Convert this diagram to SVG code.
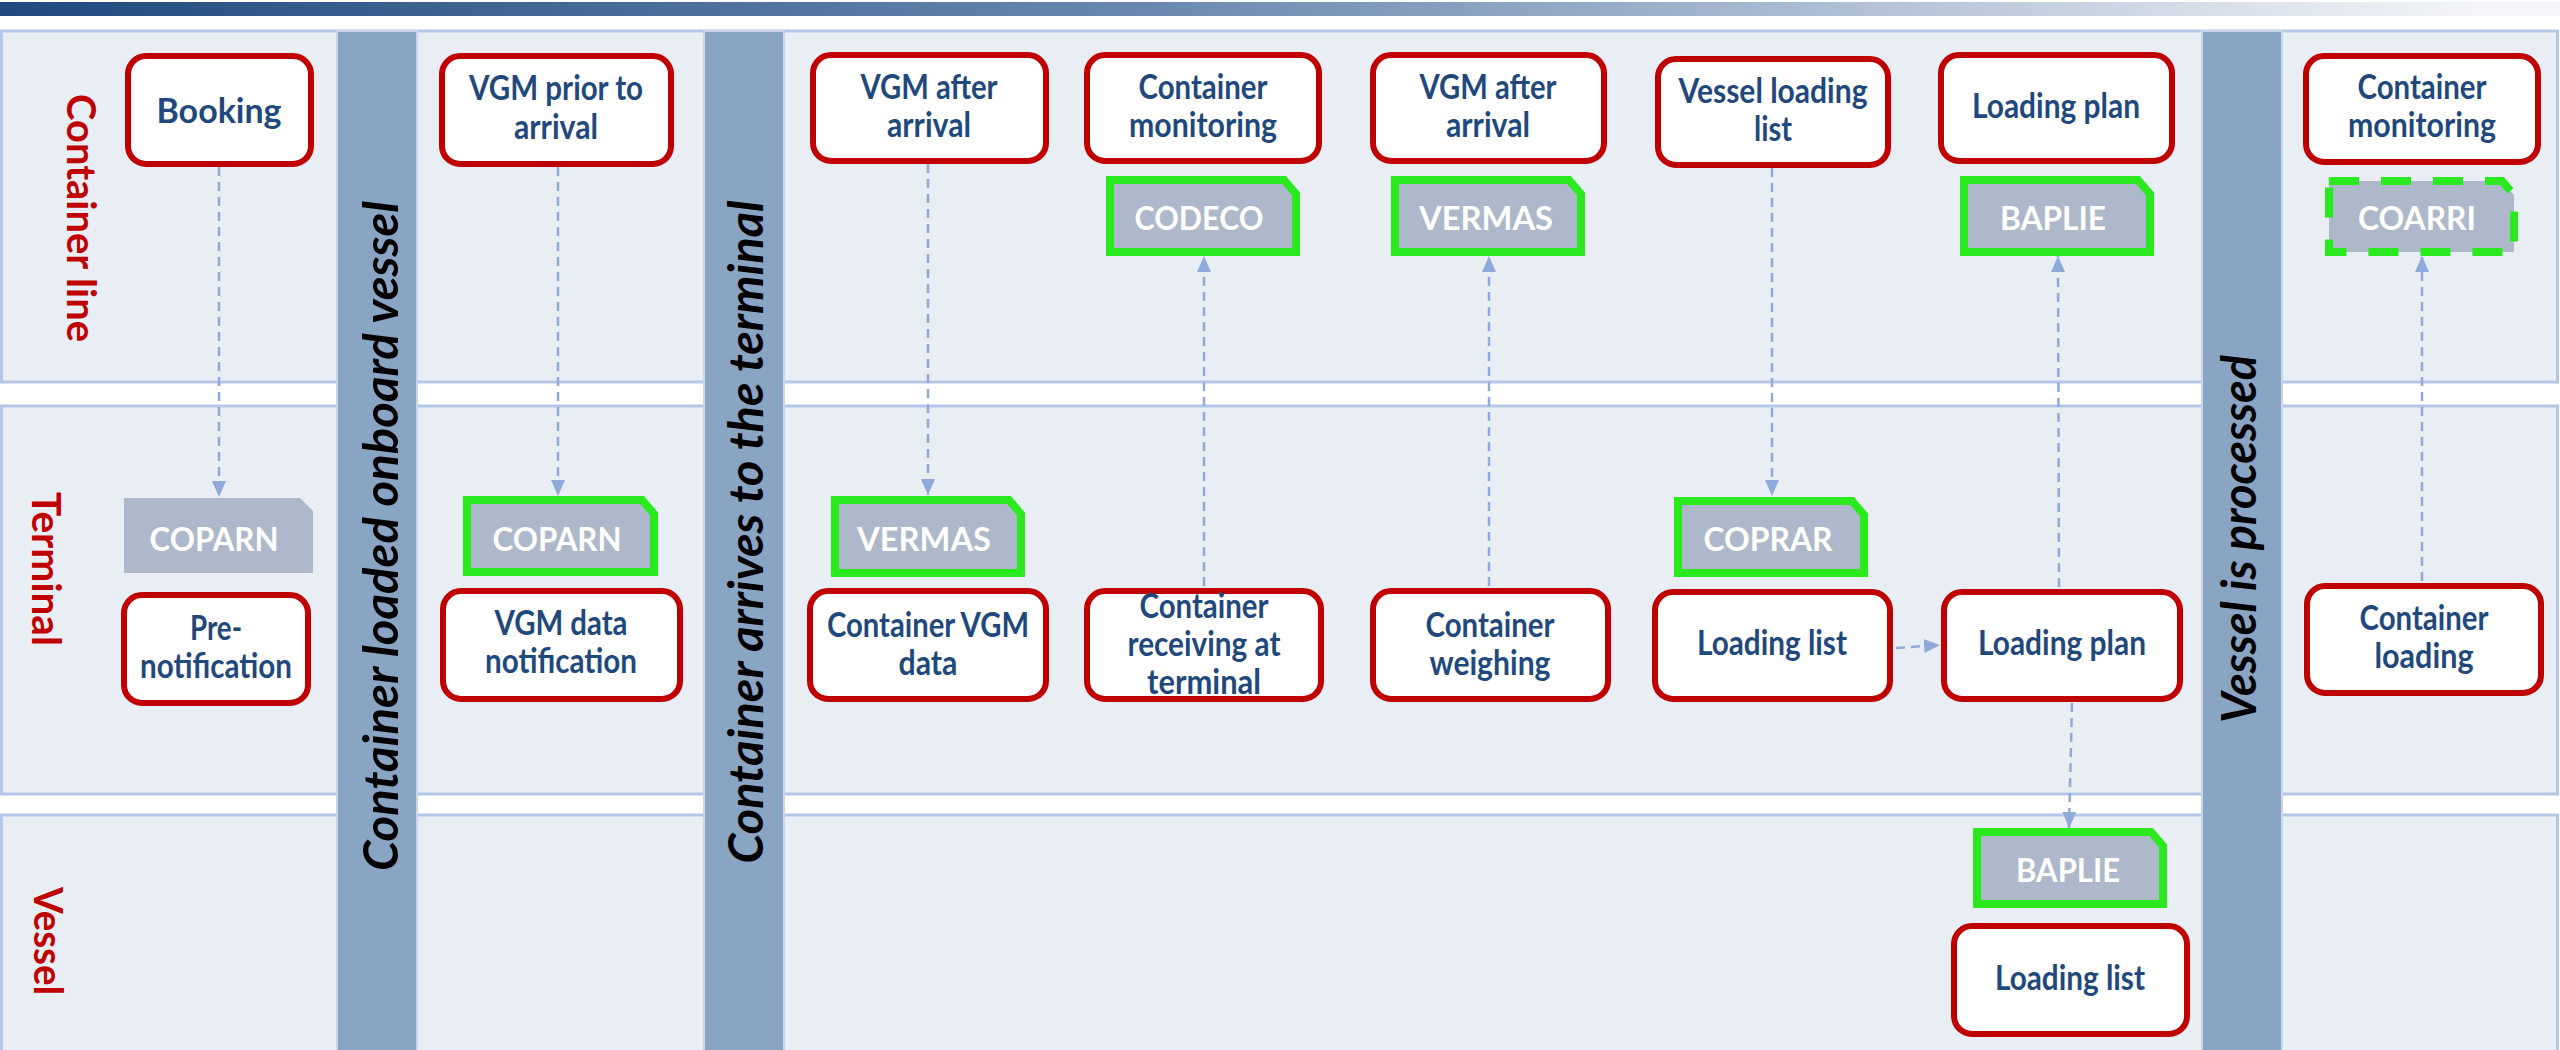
<svg xmlns="http://www.w3.org/2000/svg" width="2560" height="1050" viewBox="0 0 2560 1050">
<defs>
<linearGradient id="topbar" x1="0" y1="0" x2="1" y2="0">
<stop offset="0" stop-color="#1f4a7e"/>
<stop offset="0.45" stop-color="#6a88af"/>
<stop offset="0.75" stop-color="#b7c5d8"/>
<stop offset="0.97" stop-color="#f4f6f9"/>
</linearGradient>
<marker id="ah" viewBox="0 0 16 14" refX="16" refY="7" markerWidth="16" markerHeight="14" markerUnits="userSpaceOnUse" orient="auto">
<path d="M0,0 L16,7 L0,14 Z" fill="#8eaadb"/>
</marker>
<style>
.lane{fill:#e9edf4;stroke:#b4c7e7;stroke-width:3}
.bar{fill:#8aa4c3;stroke:#c9d6ea;stroke-width:2}
.node{fill:#ffffff;stroke:#c00000;stroke-width:6}
.msg{fill:#adb9ca;stroke:#2aea1f;stroke-width:8}
.msg-plain{fill:#adb9ca}
.msg-dash{fill:#adb9ca;stroke:#2aea1f;stroke-width:8;stroke-dasharray:30 22}
.nt{font-family:Lato,'Liberation Sans',sans-serif;font-weight:700;font-size:34px;fill:#1f497d;text-anchor:middle}
.mt{font-family:Lato,'Liberation Sans',sans-serif;font-weight:700;font-size:32px;fill:#ffffff;text-anchor:middle}
.ll{font-family:Lato,'Liberation Sans',sans-serif;font-weight:700;font-size:41px;fill:#c00000;text-anchor:middle}
.bl{font-family:Lato,'Liberation Sans',sans-serif;font-weight:700;font-style:italic;font-size:47px;fill:#000000;text-anchor:middle}
.conn{fill:none;stroke:#8eaadb;stroke-width:2.5;stroke-dasharray:9 6;marker-end:url(#ah)}
</style>
</defs>
<rect x="0" y="0" width="2560" height="1050" fill="#ffffff"/>
<rect x="0" y="2" width="2560" height="14" fill="url(#topbar)"/>

<g id="lanes">
<rect class="lane" x="1.5" y="31" width="2556" height="351"/>
<rect class="lane" x="1.5" y="406" width="2556" height="388"/>
<rect class="lane" x="1.5" y="815" width="2556" height="245"/>
<text class="ll" transform="translate(67,218) rotate(90)" textLength="248" lengthAdjust="spacingAndGlyphs">Container line</text>
<text class="ll" transform="translate(32,569) rotate(90)" textLength="154" lengthAdjust="spacingAndGlyphs">Terminal</text>
<text class="ll" transform="translate(34,941) rotate(90)" textLength="108" lengthAdjust="spacingAndGlyphs">Vessel</text>
</g>

<g id="milestones">
<rect class="bar" x="337" y="31" width="80" height="1030"/>
<rect class="bar" x="704" y="31" width="80" height="1030"/>
<rect class="bar" x="2202" y="31" width="80" height="1030"/>
<text class="bl" transform="translate(398,536) rotate(-90)" textLength="670" lengthAdjust="spacingAndGlyphs">Container loaded onboard vessel</text>
<text class="bl" transform="translate(763,532) rotate(-90)" textLength="663" lengthAdjust="spacingAndGlyphs">Container arrives to the terminal</text>
<text class="bl" transform="translate(2256,539) rotate(-90)" textLength="368" lengthAdjust="spacingAndGlyphs">Vessel is processed</text>
</g>

<g id="connectors">
<line class="conn" x1="219" y1="167" x2="219" y2="497"/>
<line class="conn" x1="558" y1="167" x2="558" y2="496"/>
<line class="conn" x1="928" y1="164" x2="928" y2="495"/>
<line class="conn" x1="1204" y1="586" x2="1204" y2="256"/>
<line class="conn" x1="1489" y1="586" x2="1489" y2="256"/>
<line class="conn" x1="1772" y1="168" x2="1772" y2="496"/>
<line class="conn" x1="2059" y1="587" x2="2058" y2="256"/>
<line class="conn" x1="2422" y1="581" x2="2422" y2="256"/>
<line class="conn" x1="1896" y1="648" x2="1940" y2="645"/>
<line class="conn" x1="2072" y1="703" x2="2069" y2="828"/>
</g>

<g id="booking"><rect class="node" x="128" y="56" width="183" height="108" rx="18"/><text class="nt" x="219" y="123" textLength="125" lengthAdjust="spacingAndGlyphs">Booking</text></g>
<g id="vgm-prior"><rect class="node" x="442" y="56" width="229" height="108" rx="18"/><text class="nt" x="556" y="100" textLength="174" lengthAdjust="spacingAndGlyphs">VGM prior to</text><text class="nt" x="556" y="139" textLength="84" lengthAdjust="spacingAndGlyphs">arrival</text></g>
<g id="vgm-after-1"><rect class="node" x="813" y="55" width="233" height="106" rx="18"/><text class="nt" x="929" y="99" textLength="137" lengthAdjust="spacingAndGlyphs">VGM after</text><text class="nt" x="929" y="137" textLength="84" lengthAdjust="spacingAndGlyphs">arrival</text></g>
<g id="container-monitoring-1"><rect class="node" x="1087" y="55" width="232" height="106" rx="18"/><text class="nt" x="1203" y="99" textLength="129" lengthAdjust="spacingAndGlyphs">Container</text><text class="nt" x="1203" y="137" textLength="148" lengthAdjust="spacingAndGlyphs">monitoring</text></g>
<g id="vgm-after-2"><rect class="node" x="1373" y="55" width="231" height="106" rx="18"/><text class="nt" x="1488" y="99" textLength="137" lengthAdjust="spacingAndGlyphs">VGM after</text><text class="nt" x="1488" y="137" textLength="84" lengthAdjust="spacingAndGlyphs">arrival</text></g>
<g id="vessel-loading-list"><rect class="node" x="1658" y="59" width="230" height="106" rx="18"/><text class="nt" x="1773" y="103" textLength="189" lengthAdjust="spacingAndGlyphs">Vessel loading</text><text class="nt" x="1773" y="141" textLength="38" lengthAdjust="spacingAndGlyphs">list</text></g>
<g id="loading-plan-cl"><rect class="node" x="1941" y="55" width="231" height="106" rx="18"/><text class="nt" x="2056" y="118" textLength="168" lengthAdjust="spacingAndGlyphs">Loading plan</text></g>
<g id="container-monitoring-2"><rect class="node" x="2306" y="56" width="232" height="106" rx="18"/><text class="nt" x="2422" y="99" textLength="129" lengthAdjust="spacingAndGlyphs">Container</text><text class="nt" x="2422" y="137" textLength="148" lengthAdjust="spacingAndGlyphs">monitoring</text></g>

<g id="codeco"><path class="msg" d="M1110,180 H1284 L1296,194 V252 H1110 Z"/><text class="mt" x="1199" y="230" textLength="129" lengthAdjust="spacingAndGlyphs">CODECO</text></g>
<g id="vermas-cl"><path class="msg" d="M1395,180 H1569 L1581,194 V252 H1395 Z"/><text class="mt" x="1486" y="230" textLength="134" lengthAdjust="spacingAndGlyphs">VERMAS</text></g>
<g id="baplie-cl"><path class="msg" d="M1964,180 H2138 L2150,194 V252 H1964 Z"/><text class="mt" x="2053" y="230" textLength="106" lengthAdjust="spacingAndGlyphs">BAPLIE</text></g>
<g id="coarri"><path class="msg-dash" d="M2329,181 H2502 L2514,195 V252 H2329 Z"/><text class="mt" x="2417" y="230" textLength="118" lengthAdjust="spacingAndGlyphs">COARRI</text></g>

<g id="coparn-1"><path class="msg-plain" d="M124,498 H300 L313,511 V573 H124 Z"/><text class="mt" x="214" y="551" textLength="129" lengthAdjust="spacingAndGlyphs">COPARN</text></g>
<g id="coparn-2"><path class="msg" d="M467,500 H642 L654,514 V572 H467 Z"/><text class="mt" x="557" y="551" textLength="129" lengthAdjust="spacingAndGlyphs">COPARN</text></g>
<g id="vermas-t"><path class="msg" d="M835,500 H1009 L1021,514 V573 H835 Z"/><text class="mt" x="924" y="551" textLength="134" lengthAdjust="spacingAndGlyphs">VERMAS</text></g>
<g id="coprar"><path class="msg" d="M1678,501 H1852 L1864,515 V573 H1678 Z"/><text class="mt" x="1768" y="551" textLength="129" lengthAdjust="spacingAndGlyphs">COPRAR</text></g>

<g id="pre-notification"><rect class="node" x="124" y="595" width="184" height="108" rx="18"/><text class="nt" x="216" y="640" textLength="52" lengthAdjust="spacingAndGlyphs">Pre-</text><text class="nt" x="216" y="678" textLength="152" lengthAdjust="spacingAndGlyphs">notification</text></g>
<g id="vgm-data-notification"><rect class="node" x="443" y="591" width="237" height="108" rx="18"/><text class="nt" x="561" y="635" textLength="133" lengthAdjust="spacingAndGlyphs">VGM data</text><text class="nt" x="561" y="673" textLength="152" lengthAdjust="spacingAndGlyphs">notification</text></g>
<g id="container-vgm-data"><rect class="node" x="810" y="591" width="236" height="108" rx="18"/><text class="nt" x="928" y="637" textLength="202" lengthAdjust="spacingAndGlyphs">Container VGM</text><text class="nt" x="928" y="675" textLength="59" lengthAdjust="spacingAndGlyphs">data</text></g>
<g id="container-receiving"><rect class="node" x="1087" y="591" width="234" height="108" rx="18"/><text class="nt" x="1204" y="618" textLength="129" lengthAdjust="spacingAndGlyphs">Container</text><text class="nt" x="1204" y="656" textLength="153" lengthAdjust="spacingAndGlyphs">receiving at</text><text class="nt" x="1204" y="694" textLength="114" lengthAdjust="spacingAndGlyphs">terminal</text></g>
<g id="container-weighing"><rect class="node" x="1373" y="591" width="235" height="108" rx="18"/><text class="nt" x="1490" y="637" textLength="129" lengthAdjust="spacingAndGlyphs">Container</text><text class="nt" x="1490" y="675" textLength="121" lengthAdjust="spacingAndGlyphs">weighing</text></g>
<g id="loading-list-t"><rect class="node" x="1655" y="592" width="235" height="107" rx="18"/><text class="nt" x="1772" y="655" textLength="150" lengthAdjust="spacingAndGlyphs">Loading list</text></g>
<g id="loading-plan-t"><rect class="node" x="1944" y="592" width="236" height="107" rx="18"/><text class="nt" x="2062" y="655" textLength="168" lengthAdjust="spacingAndGlyphs">Loading plan</text></g>
<g id="container-loading"><rect class="node" x="2307" y="586" width="234" height="107" rx="18"/><text class="nt" x="2424" y="630" textLength="129" lengthAdjust="spacingAndGlyphs">Container</text><text class="nt" x="2424" y="668" textLength="99" lengthAdjust="spacingAndGlyphs">loading</text></g>

<g id="baplie-v"><path class="msg" d="M1977,832 H2151 L2163,846 V904 H1977 Z"/><text class="mt" x="2068" y="882" textLength="104" lengthAdjust="spacingAndGlyphs">BAPLIE</text></g>
<g id="loading-list-v"><rect class="node" x="1954" y="926" width="233" height="108" rx="18"/><text class="nt" x="2070" y="990" textLength="150" lengthAdjust="spacingAndGlyphs">Loading list</text></g>
</svg>
